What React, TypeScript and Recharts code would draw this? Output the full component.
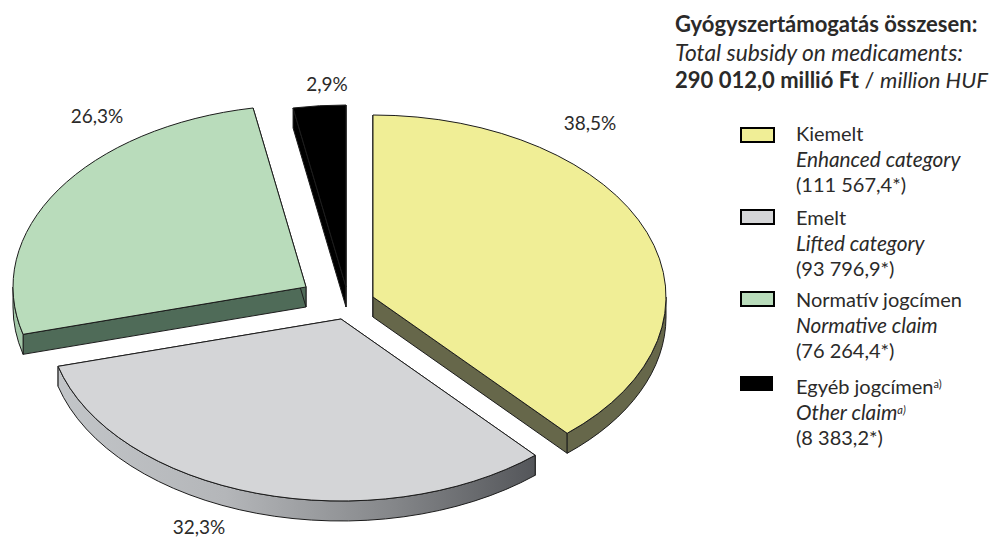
import { PieChart, Pie, Legend } from 'recharts';

// Values in million HUF
const categories = ['Kiemelt', 'Emelt', 'Normatív jogcímen', 'Egyéb jogcímen'];
const englishNames = ['Enhanced category', 'Lifted category', 'Normative claim', 'Other claim'];
const amounts = [111567.4, 93796.9, 76264.4, 8383.2];
const amountLabels = ['(111 567,4*)', '(93 796,9*)', '(76 264,4*)', '(8 383,2*)'];
const headerLines = ['Gyógyszertámogatás összesen:', 'Total subsidy on medicaments:', '290 012,0 millió Ft', 'million HUF'];

const pieData = categories.map((name, i) => ({ name, value: amounts[i] }));

const FONT = 'Lato, sans-serif';
const TEXT = '#2b2a29';
const SQUASH = 182 / 293;
const DEPTH = 20;
const CX = 340;
const CY = 300;

const sliceStyles = [
  { dx: 33, dy: -3, top: '#f0ee96', face: '#66674a', wall: '#66674a' },
  { dx: 1, dy: 19, top: '#d4d5d7', face: '#8a8c90', wall: 'url(#grayWall)' },
  { dx: -34, dy: -13, top: '#b9dcbb', face: '#4f6b58', wall: '#a3c7a8' },
  { dx: 6, dy: -13, top: '#000000', face: '#000000', wall: '#000000' },
];

const labelCenters = [
  { x: 590, y: 122 },
  { x: 199, y: 526 },
  { x: 97, y: 115 },
  { x: 327, y: 83 },
];

const legendRows = [133, 217, 299, 386];
const swatchTops = [127, 209, 291, 376];
const swatchHeights = [16, 16, 16, 15];

function point(cx: number, cy: number, rx: number, deg: number) {
  const a = (deg * Math.PI) / 180;
  return { x: cx + rx * Math.cos(a), y: cy - rx * SQUASH * Math.sin(a) };
}

function Slice3D(props: any) {
  const { cx, cy, outerRadius: rx, startAngle, endAngle, index } = props;
  const s = sliceStyles[index];
  const ox = cx + s.dx;
  const oy = cy + s.dy;
  const ry = rx * SQUASH;
  const p0 = point(ox, oy, rx, startAngle);
  const p1 = point(ox, oy, rx, endAngle);
  const big = Math.abs(startAngle - endAngle) > 180 ? 1 : 0;
  const edge = { stroke: '#1c1c1c', strokeWidth: 1, strokeLinejoin: 'round' as const };

  const quad = (p: { x: number; y: number }) =>
    `M${ox},${oy} L${p.x},${p.y} L${p.x},${p.y + DEPTH} L${ox},${oy + DEPTH} Z`;

  // outer wall only shows on the front half of the ellipse
  const a0 = Math.min(startAngle, 0);
  const a1 = Math.max(endAngle, -180);
  let wall = null;
  if (a0 > a1) {
    const w0 = point(ox, oy, rx, a0);
    const w1 = point(ox, oy, rx, a1);
    wall = (
      <path
        d={`M${w0.x},${w0.y} A${rx},${ry} 0 0 1 ${w1.x},${w1.y} L${w1.x},${w1.y + DEPTH} A${rx},${ry} 0 0 0 ${w0.x},${w0.y + DEPTH} Z`}
        fill={s.wall}
        {...edge}
      />
    );
  }

  return (
    <g>
      <path d={quad(p0)} fill={s.face} {...edge} />
      <path d={quad(p1)} fill={s.face} {...edge} />
      {wall}
      <path
        d={`M${ox},${oy} L${p0.x},${p0.y} A${rx},${ry} 0 ${big} 1 ${p1.x},${p1.y} Z`}
        fill={s.top}
        {...edge}
      />
    </g>
  );
}

function percentLabel(props: any) {
  const c = labelCenters[props.index];
  return (
    <text x={c.x} y={c.y} textAnchor="middle" dominantBaseline="central" fontFamily={FONT} fontSize={19} fill={TEXT}>
      {(props.percent * 100).toFixed(1).replace('.', ',')}%
    </text>
  );
}

function LegendBlock() {
  const line = (top: number, content: any, italic = false) => (
    <div
      style={{
        position: 'absolute',
        left: 796,
        top: top - 12,
        height: 24,
        lineHeight: '24px',
        fontSize: italic ? 20.8 : 20,
        fontStyle: italic ? 'italic' : 'normal',
        whiteSpace: 'nowrap',
      }}
    >
      {content}
    </div>
  );
  const sup = (italic: boolean) => (
    <span style={{ fontSize: 11, verticalAlign: 6, lineHeight: 0, fontStyle: italic ? 'italic' : 'normal' }}>a)</span>
  );
  return (
    <div style={{ position: 'relative', width: 992, height: 537, fontFamily: FONT, color: TEXT }}>
      <div style={{ position: 'absolute', left: 675, top: 10, fontSize: 22, lineHeight: '28px', whiteSpace: 'nowrap' }}>
        <div style={{ fontWeight: 700 }}>{headerLines[0]}</div>
        <div style={{ fontStyle: 'italic', fontSize: 22.8 }}>{headerLines[1]}</div>
        <div>
          <b>{headerLines[2]}</b> / <i>{headerLines[3]}</i>
        </div>
      </div>
      {categories.map((name, i) => (
        <div key={name}>
          <div
            style={{
              position: 'absolute',
              left: 740,
              top: swatchTops[i],
              width: i === 3 ? 33 : 35,
              height: swatchHeights[i],
              boxSizing: 'border-box',
              border: '2px solid #000',
              background: sliceStyles[i].top,
            }}
          />
          {line(legendRows[i], i === 3 ? <>{name}{sup(false)}</> : name)}
          {line(legendRows[i] + 25.5, i === 3 ? <>{englishNames[i]}{sup(true)}</> : englishNames[i], true)}
          {line(legendRows[i] + 51, amountLabels[i])}
        </div>
      ))}
    </div>
  );
}

export default function App() {
  return (
    <div style={{ position: 'absolute', left: 0, top: 0, width: 992, height: 537 }}>
      <PieChart width={992} height={537} margin={{ top: 0, right: 0, bottom: 0, left: 0 }}>
        <defs>
          <linearGradient id="grayWall" gradientUnits="userSpaceOnUse" x1="58" y1="0" x2="535" y2="0">
            <stop offset="0" stopColor="#c2c5c8" />
            <stop offset="0.35" stopColor="#b4b6b9" />
            <stop offset="0.7" stopColor="#85878a" />
            <stop offset="1" stopColor="#54565a" />
          </linearGradient>
        </defs>
        <Pie
          data={pieData}
          dataKey="value"
          nameKey="name"
          cx={CX}
          cy={CY}
          innerRadius={0}
          outerRadius={293}
          startAngle={90}
          endAngle={-270}
          paddingAngle={0}
          stroke="none"
          shape={Slice3D}
          label={percentLabel}
          labelLine={false}
          isAnimationActive={false}
        />
        <Legend content={<LegendBlock />} wrapperStyle={{ position: 'absolute', left: 0, top: 0, width: 992, height: 537 }} />
      </PieChart>
    </div>
  );
}
